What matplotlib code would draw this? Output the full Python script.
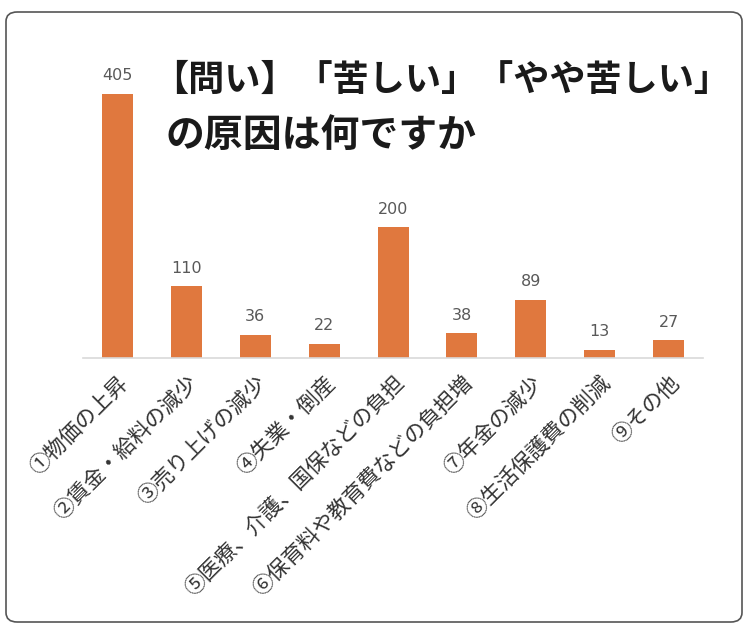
import matplotlib.pyplot as plt
from matplotlib.patches import FancyBboxPatch

plt.rcParams['font.family'] = ['Noto Sans CJK JP', 'DejaVu Sans']

# data
categories = ['①物価の上昇', '②賃金・給料の減少', '③売り上げの減少', '④失業・倒産',
              '⑤医療、介護、国保などの負担', '⑥保育料や教育費などの負担増',
              '⑦年金の減少', '⑧生活保護費の削減', '⑨その他']
values = [405, 110, 36, 22, 200, 38, 89, 13, 27]
title_lines = ['【問い】「苦しい」「やや苦しい」', 'の原因は何ですか']

W, H = 747, 627
fig = plt.figure(figsize=(W / 100, H / 100), dpi=100)

# rounded frame around the whole chart
frame = FancyBboxPatch((6 / W, 5 / H), 736 / W, 610 / H,
                       boxstyle='round,pad=0,rounding_size=0.015',
                       transform=fig.transFigure, fill=False,
                       edgecolor='#555555', linewidth=1.2)
fig.patches.append(frame)

# axes placed in pixel coords: baseline y=358, left x=83, right x=703
ax = fig.add_axes([83 / W, 1 - 358 / H, 620 / W, 308 / H])
x = range(len(values))
bars = ax.bar(x, values, width=0.45, color='#E0783E')
ax.set_xlim(-0.5, 8.5)
ax.set_ylim(0, 472)

for xi, v in zip(x, values):
    ax.text(xi, v + 16, str(v), ha='center', va='bottom',
            fontsize=11.5, color='#595959', family='DejaVu Sans')

for s in ['top', 'right', 'left']:
    ax.spines[s].set_visible(False)
ax.spines['bottom'].set_color('#D9D9D9')
ax.spines['bottom'].set_linewidth(1.2)
ax.set_yticks([])
ax.set_xticks(list(x))
ax.set_xticklabels(categories, rotation=45, ha='right', rotation_mode='anchor',
                   fontsize=15.5, color='#333333')
ax.tick_params(axis='x', length=0, pad=10)

# title, two lines
fig.text(152 / W, 1 - 80 / H, title_lines[0], fontsize=26, fontweight='bold',
         color='#1a1a1a', va='center', ha='left')
fig.text(165 / W, 1 - 135 / H, title_lines[1], fontsize=28, fontweight='bold',
         color='#1a1a1a', va='center', ha='left')

fig.savefig('out.png', dpi=100)
